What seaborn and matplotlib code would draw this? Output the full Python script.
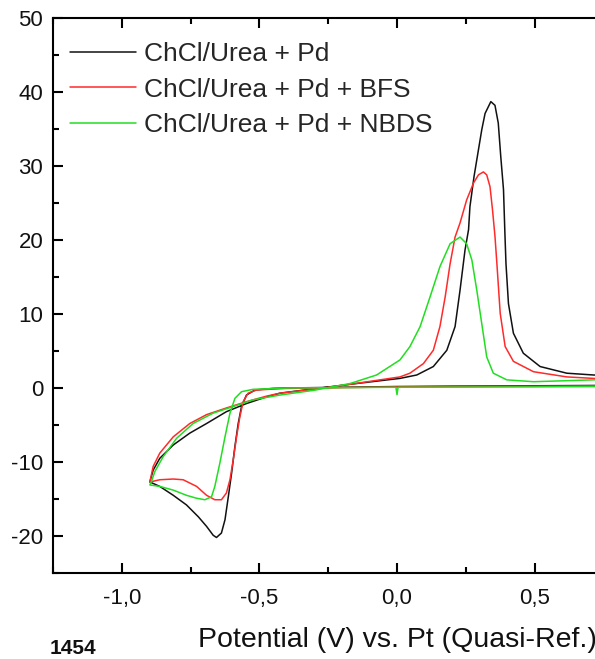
import numpy as np
import pandas as pd
import matplotlib
matplotlib.use("Agg")
import matplotlib.pyplot as plt
import seaborn as sns
from matplotlib.ticker import MultipleLocator

# ---------------- data ----------------
series_names = ["ChCl/Urea + Pd", "ChCl/Urea + Pd + BFS", "ChCl/Urea + Pd + NBDS"]
series_colors = ["#111111", "#ff2a2a", "#22dd22"]

pd_x = [0.75, 0.5, 0.2, 0.0, -0.2, -0.4, -0.45, -0.516, -0.547, -0.565, -0.577, -0.589,
        -0.601, -0.613, -0.625, -0.638, -0.656, -0.668, -0.692, -0.722, -0.765, -0.813,
        -0.862, -0.898,
        -0.886, -0.862, -0.813, -0.753, -0.692, -0.62, -0.547, -0.474, -0.425, -0.3,
        -0.171, 0.011, 0.072, 0.132, 0.181, 0.211, 0.229, 0.247, 0.26, 0.265, 0.28,
        0.296, 0.308, 0.32, 0.341, 0.356, 0.368, 0.377, 0.387, 0.392, 0.396, 0.405,
        0.423, 0.459, 0.52, 0.617, 0.713, 0.75, 0.75]
pd_y = [0.35, 0.3, 0.25, 0.2, 0.1, 0.0, -0.05, -0.27, -0.95, -2.5, -4.8, -7.9,
        -11.5, -14.7, -17.8, -19.6, -20.2, -19.9, -18.7, -17.4, -15.8, -14.5,
        -13.3, -12.7,
        -11.1, -9.5, -7.7, -6.1, -4.8, -3.2, -2.1, -1.2, -0.7, -0.1,
        0.5, 1.3, 1.76, 2.9, 5.1, 8.3, 13.2, 18.6, 21.4, 24.5, 28.6,
        32.2, 34.9, 37.1, 38.7, 38.2, 35.8, 31.3, 26.8, 21.0, 16.8, 11.4,
        7.4, 4.7, 2.9, 2.0, 1.76, 1.7, 0.35]

bfs_x = [0.75, 0.5, 0.2, 0.0, -0.2, -0.4, -0.51, -0.541, -0.559, -0.571, -0.583, -0.595,
         -0.607, -0.62, -0.638, -0.662, -0.692, -0.728, -0.777, -0.813, -0.862, -0.898,
         -0.886, -0.862, -0.813, -0.753, -0.692, -0.62, -0.547, -0.474, -0.425, -0.3,
         -0.171, 0.011, 0.047, 0.096, 0.132, 0.156, 0.175, 0.193, 0.211, 0.229, 0.253,
         0.278, 0.296, 0.314, 0.326, 0.338, 0.347, 0.356, 0.363, 0.375, 0.393, 0.423,
         0.496, 0.617, 0.713, 0.75, 0.75]
bfs_y = [0.3, 0.25, 0.2, 0.15, 0.05, -0.05, -0.27, -0.7, -1.85, -3.9, -6.6, -9.7,
         -12.4, -14.2, -15.1, -15.1, -14.5, -13.3, -12.4, -12.3, -12.4, -12.7,
         -10.6, -8.8, -6.6, -4.8, -3.6, -2.7, -1.85, -1.1, -0.7, -0.15,
         0.5, 1.5, 2.0, 3.3, 5.1, 8.3, 12.3, 16.8, 20.4, 22.3, 25.4,
         27.7, 28.8, 29.2, 28.8, 27.2, 24.1, 20.5, 16.8, 10.1, 5.6, 3.6,
         2.2, 1.5, 1.3, 1.25, 0.3]

nbds_x = [0.75, 0.5, 0.2, 0.02, 0.004, 0.0, -0.004, -0.2, -0.4, -0.523, -0.565, -0.589,
          -0.607, -0.625, -0.644, -0.662, -0.674, -0.698, -0.728, -0.765, -0.813, -0.862,
          -0.898, -0.892,
          -0.88, -0.85, -0.801, -0.741, -0.668, -0.595, -0.523, -0.425, -0.3, -0.171,
          -0.074, 0.011, 0.047, 0.084, 0.12, 0.156, 0.193, 0.229, 0.253, 0.272, 0.29,
          0.308, 0.326, 0.35, 0.399, 0.496, 0.713, 0.75, 0.75]
nbds_y = [0.2, 0.15, 0.12, 0.1, 0.1, -0.9, 0.1, 0.05, 0.0, -0.18, -0.5, -1.4,
          -3.4, -6.6, -10.2, -13.3, -14.7, -15.1, -14.9, -14.5, -13.8, -13.3,
          -13.1, -12.6,
          -11.3, -9.3, -6.8, -4.8, -3.4, -2.5, -1.6, -0.95, -0.3, 0.6,
          1.76, 3.8, 5.6, 8.3, 12.3, 16.4, 19.5, 20.4, 19.5, 17.3, 13.2,
          8.7, 4.2, 2.0, 1.1, 0.85, 1.1, 1.15, 0.2]

xticks = [-1.0, -0.5, 0.0, 0.5]
xtick_labels = ["-1,0", "-0,5", "0,0", "0,5"]
yticks = [-20, -10, 0, 10, 20, 30, 40, 50]
ytick_labels = ["-20", "-10", "0", "10", "20", "30", "40", "50"]
xlabel = "Potential (V) vs. Pt (Quasi-Ref.)"
corner_text = "1454"

# ---------------- build table ----------------
frames = []
for name, xs, ys in zip(series_names, [pd_x, bfs_x, nbds_x], [pd_y, bfs_y, nbds_y]):
    frames.append(pd.DataFrame({"E": xs, "I": ys, "series": name,
                                "order": np.arange(len(xs))}))
df = pd.concat(frames, ignore_index=True)

# ---------------- style ----------------
sns.set_theme(style="ticks")
plt.rcParams["font.family"] = ["Liberation Sans", "DejaVu Sans"]
plt.rcParams["axes.linewidth"] = 1.5

W, H = 595, 659
fig = plt.figure(figsize=(W / 100, H / 100), dpi=100)
fig.patch.set_facecolor("white")
# axes extend beyond the right figure edge (cropped like the reference)
left_px, right_px, top_px, bot_px = 53, 741, 18, 573
ax = fig.add_axes([left_px / W, 1 - bot_px / H, (right_px - left_px) / W, (bot_px - top_px) / H])
ax.set_facecolor("white")

sns.lineplot(data=df, x="E", y="I", hue="series", hue_order=series_names,
             palette=dict(zip(series_names, series_colors)), sort=False,
             estimator=None, linewidth=1.1, legend=False, ax=ax)
for ln in ax.lines:
    ln.set_solid_joinstyle("round")

ax.set_xlim(-1.25, 1.25)
ax.set_ylim(-25, 50)
ax.set_xticks(xticks, labels=xtick_labels)
ax.set_yticks(yticks, labels=ytick_labels)
ax.xaxis.set_minor_locator(MultipleLocator(0.25))
ax.yaxis.set_minor_locator(MultipleLocator(5))
ax.tick_params(which="both", direction="in", top=True, right=False, width=1.5, color="black")
ax.tick_params(which="major", length=7.5, labelsize=16, pad=7, labelcolor="#111111")
ax.tick_params(axis="x", which="major", pad=11)
ax.tick_params(which="minor", length=4)
for s in ["left", "bottom", "top"]:
    ax.spines[s].set_color("black")
ax.spines["right"].set_visible(False)

ax.set_xlabel(xlabel, fontsize=20.5, labelpad=13, color="#111111")
ax.set_ylabel("")

ax.legend(handles=ax.lines[:3], labels=series_names, loc="upper left",
          bbox_to_anchor=(70 / W, 1 - 42 / H), bbox_transform=fig.transFigure,
          frameon=False, fontsize=19, handlelength=2.5, handletextpad=0.3,
          borderpad=0, borderaxespad=0, labelspacing=0.44)

fig.text(50 / W, 1 / H, corner_text, fontsize=15, fontweight="bold",
         ha="left", va="bottom", color="#111111")

fig.savefig("out.png", dpi=100, facecolor="white")
